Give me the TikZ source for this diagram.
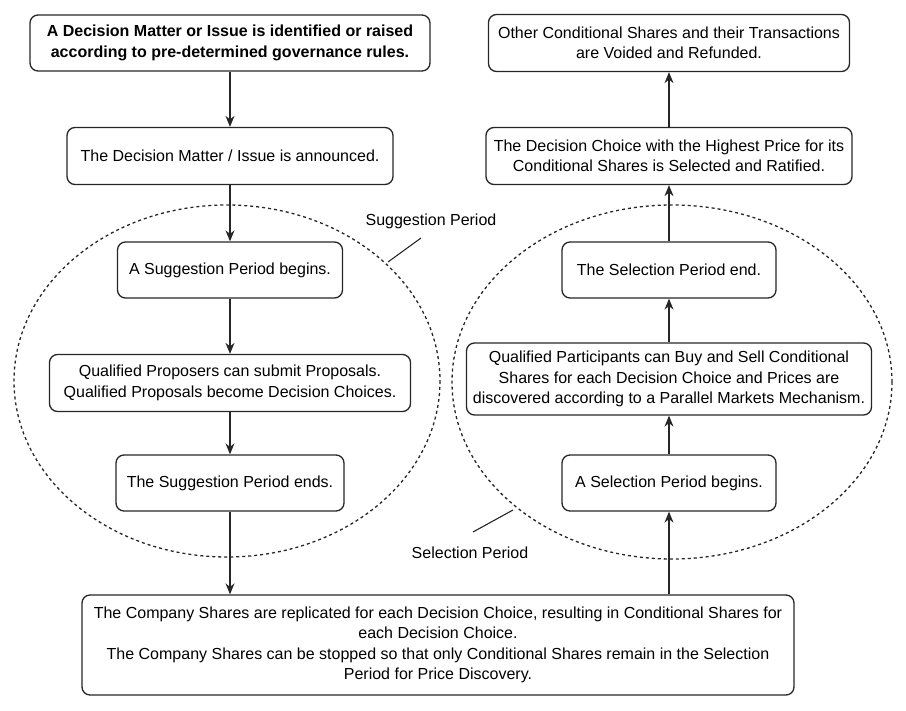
\documentclass[tikz,border=0pt]{standalone}
\usepackage{fontspec}
\setmainfont{Liberation Sans}
\usetikzlibrary{arrows.meta}
\tikzstyle{stepbox}=[draw=black!85,line width=1.3pt,rounded corners=8pt,align=center,inner sep=2pt,font=\fontsize{16}{20.3}\selectfont]
\tikzstyle{flow}=[draw=black!85,line width=1.3pt,-{Stealth[length=11pt,width=9pt]}]
\tikzstyle{period}=[draw=black!85,line width=1.3pt,dash pattern=on 3pt off 3pt]
\tikzstyle{tag}=[font=\fontsize{16}{19}\selectfont]

\begin{document}
\begin{tikzpicture}[x=1pt,y=-1pt]
    \useasboundingbox (0,0) rectangle (906,711);
    % the two periods
    \draw[period] (227,381) ellipse [x radius=213, y radius=176];
    \draw[period] (672,382) ellipse [x radius=220, y radius=177];
    % left column
    \node[stepbox,minimum width=400pt,minimum height=56pt,font=\fontsize{16}{20.3}\selectfont\bfseries] (l0) at (230,43)
        {A Decision Matter or Issue is identified or raised\\according to pre-determined governance rules.};
    \node[stepbox,minimum width=326pt,minimum height=57pt] (l1) at (230,156) {The Decision Matter / Issue is announced.};
    \node[stepbox,minimum width=225pt,minimum height=56pt] (l2) at (230,270) {A Suggestion Period begins.};
    \node[stepbox,minimum width=361pt,minimum height=57pt] (l3) at (230,383)
        {Qualified Proposers can submit Proposals.\\Qualified Proposals become Decision Choices.};
    \node[stepbox,minimum width=228pt,minimum height=56pt] (l4) at (230,483) {The Suggestion Period ends.};
    % bottom
    \node[stepbox,minimum width=712pt,minimum height=100pt] (b0) at (438,645)
        {The Company Shares are replicated for each Decision Choice, resulting in Conditional Shares for\\each Decision Choice.\\The Company Shares can be stopped so that only Conditional Shares remain in the Selection\\Period for Price Discovery.};
    % right column
    \node[stepbox,minimum width=214pt,minimum height=56pt] (r1) at (669,483) {A Selection Period begins.};
    \node[stepbox,minimum width=405pt,minimum height=72pt] (r2) at (669,379)
        {Qualified Participants can Buy and Sell Conditional\\Shares for each Decision Choice and Prices are\\discovered according to a Parallel Markets Mechanism.};
    \node[stepbox,minimum width=214pt,minimum height=56pt] (r3) at (669,270) {The Selection Period end.};
    \node[stepbox,minimum width=366pt,minimum height=57pt] (r4) at (669,156)
        {The Decision Choice with the Highest Price for its\\Conditional Shares is Selected and Ratified.};
    \node[stepbox,minimum width=361pt,minimum height=57pt] (r5) at (669,43)
        {Other Conditional Shares and their Transactions\\are Voided and Refunded.};
    % period labels
    \node[tag] (sp) at (431,221) {Suggestion Period};
    \node[tag] (se) at (470,553) {Selection Period};
    \coordinate (sp1) at (388,262);
    \coordinate (sp2) at (421,238);
    \coordinate (se1) at (473,532);
    \coordinate (se2) at (513,510);
    \draw[draw=black!85,line width=1.1pt] (sp1) -- (sp2);
    \draw[draw=black!85,line width=1.1pt] (se1) -- (se2);
    % arrows
    \draw[flow] (l0) -- (l1);
    \draw[flow] (l1) -- (l2);
    \draw[flow] (l2) -- (l3);
    \draw[flow] (l3) -- (l4);
    \draw[flow] (l4) -- (l4 |- b0.north);
    \draw[flow] (r1 |- b0.north) -- (r1);
    \draw[flow] (r1) -- (r2);
    \draw[flow] (r2) -- (r3);
    \draw[flow] (r3) -- (r4);
    \draw[flow] (r4) -- (r5);
\end{tikzpicture}
\end{document}
